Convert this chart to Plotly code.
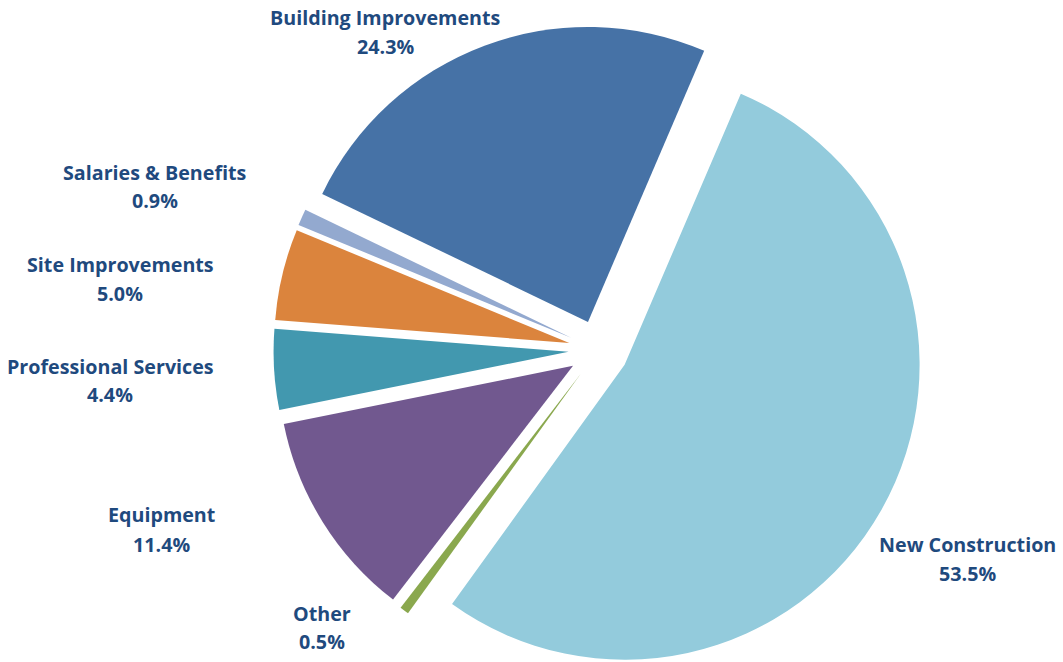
import plotly.graph_objects as go

# Spending breakdown, listed clockwise from the top of the pie
categories = [
    "New Construction",
    "Other",
    "Equipment",
    "Professional Services",
    "Site Improvements",
    "Salaries & Benefits",
    "Building Improvements",
]
shares = [53.5, 0.5, 11.4, 4.4, 5.0, 0.9, 24.3]
slice_colors = ["#93CBDC", "#8AA84E", "#71588F", "#4298AF", "#DB843D", "#93A9CF", "#4672A6"]

# Label placement (pixel centres of the name line and the value line)
label_pos = {
    "New Construction": (967, 544, 573),
    "Other": (322, 613, 641),
    "Equipment": (161, 514, 544),
    "Professional Services": (110, 366, 394),
    "Site Improvements": (120, 264, 293),
    "Salaries & Benefits": (155, 172, 200),
    "Building Improvements": (385, 18, 46),
}

W, H = 1063, 700
label_font = dict(family="'Open Sans', Lato, sans-serif", size=19.7, color="#1F4A7E")

fig = go.Figure(
    go.Pie(
        labels=categories,
        values=shares,
        sort=False,
        direction="clockwise",
        rotation=23.2,
        pull=[0.1017] * len(categories),
        marker=dict(colors=slice_colors, line=dict(width=0)),
        textinfo="none",
        hoverinfo="label+percent",
        showlegend=False,
        domain=dict(x=[273.5 / W, 923.5 / W], y=[1 - 675 / H, 1 - 25 / H]),
    )
)

annotations = []
for name, val in zip(categories, shares):
    cx, y1, y2 = label_pos[name]
    for txt, yy in ((f"<b>{name}</b>", y1), (f"<b>{val:.1f}%</b>", y2)):
        annotations.append(
            dict(
                text=txt,
                x=cx / W,
                y=1 - yy / H,
                xref="paper",
                yref="paper",
                xanchor="center",
                yanchor="middle",
                showarrow=False,
                font=label_font,
            )
        )

fig.update_layout(
    width=W,
    height=H,
    margin=dict(l=0, r=0, t=0, b=0),
    paper_bgcolor="white",
    plot_bgcolor="white",
    annotations=annotations,
)

fig.write_html(
    "out.html",
    post_script="document.documentElement.style.overflow='hidden';document.body.style.overflow='hidden';",
)
